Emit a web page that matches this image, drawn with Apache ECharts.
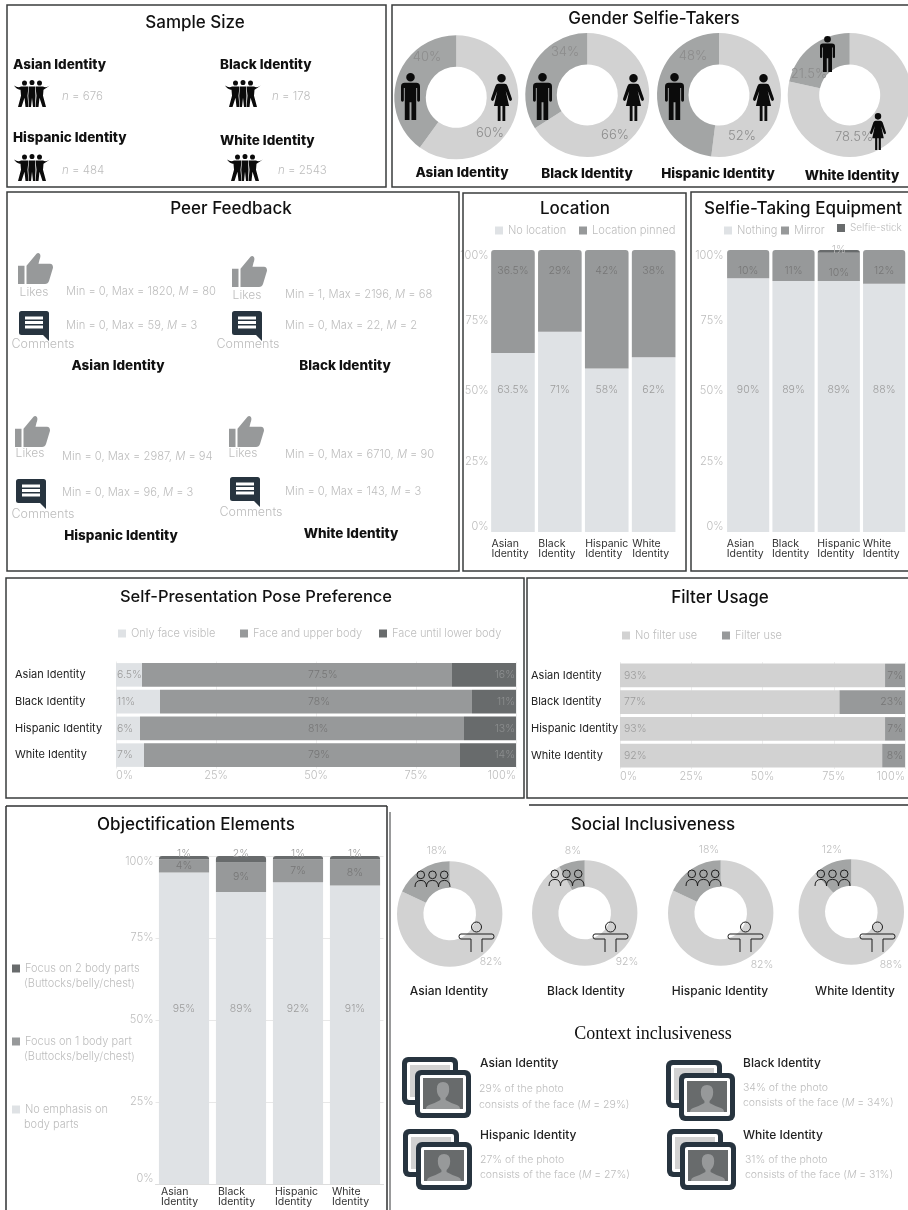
<!DOCTYPE html>
<html>
<head>
<meta charset="utf-8">
<title>Selfie practices by identity</title>
<script src="https://cdn.jsdelivr.net/npm/echarts@6/dist/echarts.min.js"></script>
<style>html,body{margin:0;padding:0;background:#fff}#chart{width:908px;height:1210px}</style>
</head>
<body>
<div id="chart"></div>
<script>
// ---- Values ----
const identities = ['Asian Identity', 'Black Identity', 'Hispanic Identity', 'White Identity'];
const sampleSizes = [676, 178, 484, 2543];

const genderFemale = [60, 66, 52, 78.5];
const genderMale = [40, 34, 48, 21.5];

const likesMin = [0, 1, 0, 0];
const likesMax = [1820, 2196, 2987, 6710];
const likesMean = [80, 68, 94, 90];
const commentsMin = [0, 0, 0, 0];
const commentsMax = [59, 22, 96, 143];
const commentsMean = [3, 2, 3, 3];

const noLocation = [63.5, 71, 58, 62];
const locationPinned = [36.5, 29, 42, 38];

const equipNothing = [90, 89, 89, 88];
const equipMirror = [10, 11, 10, 12];
const equipStick = [0, 0, 1, 0];

const poseFace = [6.5, 11, 6, 7];
const poseUpper = [77.5, 78, 81, 79];
const poseLower = [16, 11, 13, 14];

const noFilter = [93, 77, 93, 92];
const withFilter = [7, 23, 7, 8];

const objNone = [95, 89, 92, 91];
const objOnePart = [4, 9, 7, 8];
const objTwoParts = [1, 2, 1, 1];

const socialSolo = [82, 92, 82, 88];
const socialGroup = [18, 8, 18, 12];

const facePercent = [29, 34, 27, 31];

// ---- Palette and type ----
const FONT = 'Inter, "Open Sans", sans-serif';
const C_LIGHT = '#dfe2e5', C_MID = '#97999a', C_DARK = '#686b6c';
const C_PIE_A = '#d2d2d2', C_PIE_B = '#a3a5a5', C_NAVY = '#27343f';
const C_FAINT = '#bdbdbd', C_LABEL = '#9c9c9c', C_LABEL_DK = '#767676';

// ---- Icon outlines ----
const MAN = 'M29 9A9 9 0 1 1 11 9A9 9 0 1 1 29 9ZM8 21H32Q40 21 40 29V58Q40 61 37 61Q34 61 34 58V32H32V100H22V62H18V100H8V32H6V58Q6 61 3 61Q0 61 0 58V29Q0 21 8 21Z';
const WOMAN = 'M31 9A9 9 0 1 1 13 9A9 9 0 1 1 31 9ZM15 21H29Q33 21 35 26L44 52Q45 56 42 57Q39 58 38 55L31 36L38 68H30V100H24V68H20V100H14V68H6L13 36L6 55Q5 58 2 57Q-1 56 0 52L9 26Q11 21 15 21Z';
const CROWD = 'M26 7A5 5 0 1 1 16 7A5 5 0 1 1 26 7ZM41 6A5 5 0 1 1 31 6A5 5 0 1 1 41 6ZM56 7A5 5 0 1 1 46 7A5 5 0 1 1 56 7Z'
  + 'M0 12Q8 17 14 14H29L27 32L29 54H23L21 36L15 54H8L14 32L13 20Q6 21 0 12Z'
  + 'M30 14H42L43 32L42 54H38L36 36L34 54H30L28.5 32Z'
  + 'M72 12L59 20L58 32L64 54H57L51 36L49 54H43L45 32L43 14H58Q64 17 72 12Z';
const THUMB = 'M0 26H13V62H0ZM17 26L37 2Q41-1 44 3Q46 6 43 14L41 22H64Q70 22 70 30L62 56Q60 62 54 62H17Z';
const BUBBLE = 'M5 0H55Q60 0 60 5V60L48 48H5Q0 48 0 43V5Q0 0 5 0Z'
  + 'M12 11V17H48V11ZM12 20V26H48V20ZM12 29V35H48V29Z';
const BUST = 'M33 0Q45 0 45 14Q45 26 38 32V36Q48 42 60 46Q66 48 66 54H0Q0 48 6 46Q18 42 28 36V32Q21 26 21 14Q21 0 33 0Z';
const OUTLINE_CROWD = 'M9.6 4A3.8 3.8 0 1 1 2 4A3.8 3.8 0 1 1 9.6 4ZM21.3 4A3.8 3.8 0 1 1 13.7 4A3.8 3.8 0 1 1 21.3 4ZM33 4A3.8 3.8 0 1 1 25.4 4A3.8 3.8 0 1 1 33 4Z'
  + 'M0 16Q0 9.5 6 9.5Q11.5 9.5 11.5 16Q11.5 9.5 17.5 9.5Q23.5 9.5 23.5 16Q23.5 9.5 29.5 9.5Q35 9.5 35 16';
const OUTLINE_ARMS = 'M22.5 5A5 5 0 1 1 12.5 5A5 5 0 1 1 22.5 5ZM12 30V17H2Q0 17 0 14.5Q0 12 2 12H33Q35 12 35 14.5Q35 17 33 17H23V30';

// ---- Graphic helpers: panels, captions and pictograms ----
const graphics = [];
const icons = [];

function text(str, x, y, o = {}) {
  const size = o.size || 11, weight = o.weight || 300, fill = o.fill || C_FAINT;
  const family = o.family || FONT;
  const style = {
    text: str, fill, fontSize: size, fontWeight: weight, fontFamily: family,
    align: o.align || 'left', verticalAlign: 'middle',
    textAlign: o.align || 'left', textVerticalAlign: 'middle'
  };
  if (o.italicToken) {
    style.rich = {
      i: { fontStyle: 'italic', fontSize: size, fontWeight: weight, fontFamily: family, fill },
      r: { fontSize: size, fontWeight: weight, fontFamily: family, fill }
    };
  }
  graphics.push({ type: 'text', x, y, z: 120, silent: true, style });
}
function icon(d, x, y, width, height, style) {
  icons.push({ d, x, y, width, height, style });
}
function box(x0, y0, x1, y1) {
  graphics.push({
    type: 'rect', z: 5, silent: true,
    shape: { x: x0, y: y0, width: x1 - x0, height: y1 - y0 },
    style: { fill: 'none', stroke: '#3a3c3d', lineWidth: 1.5 }
  });
}
function rule(x0, y0, x1, y1, stroke = '#2f3132') {
  graphics.push({
    type: 'line', z: 5, silent: true,
    shape: { x1: x0, y1: y0, x2: x1, y2: y1 },
    style: { stroke, lineWidth: 1.5 }
  });
}
function block(x, y, w, h, r, fill) {
  graphics.push({
    type: 'rect', z: 108, silent: true,
    shape: { x, y, width: w, height: h, r }, style: { fill }
  });
}
function photoStack(x, y) {
  block(x, y, 56, 48, 6, C_NAVY);
  block(x + 5, y + 5, 46, 38, 2, '#ffffff');
  block(x + 8, y + 8, 40, 32, 0, C_PIE_A);
  block(x + 13, y + 13, 56, 48, 6, C_NAVY);
  block(x + 18, y + 18, 46, 38, 2, '#ffffff');
  block(x + 21, y + 21, 40, 31, 0, C_DARK);
  icon(BUST, x + 24, y + 25, 34, 27, { fill: C_MID });
}

const bold = { size: 13.5, weight: 800, fill: '#111', align: 'center' };
const plain = { size: 12, weight: 500, fill: '#222', align: 'center' };
const statFmt = (a, b, c) => `{r|Min = ${a}, Max = ${b}, }{i|M}{r| = ${c}}`;

// Panel frames
box(7, 5, 386, 187);
box(392, 5, 912, 187);
box(7, 192, 459, 571);
box(463, 193, 686, 571);
box(691, 192, 912, 571);
box(6, 578, 524, 798);
box(527, 578, 912, 798);
rule(6, 806, 387, 806);
rule(6, 806, 6, 1212);
rule(387, 806, 387, 1212);
rule(390, 812, 390, 1212, '#77797a');
rule(529, 805, 908, 805);

// Sample size block
const sampleSpots = [
  { tx: 13, ty: 65, ix: 14, iy: 80, nx: 62, ny: 97 },
  { tx: 220, ty: 65, ix: 225, iy: 80, nx: 272, ny: 97 },
  { tx: 13, ty: 138, ix: 14, iy: 154, nx: 62, ny: 171 },
  { tx: 220, ty: 141, ix: 227, iy: 154, nx: 278, ny: 171 }
];
identities.forEach((name, i) => {
  const s = sampleSpots[i];
  text(name, s.tx, s.ty, { ...bold, align: 'left' });
  icon(CROWD, s.ix, s.iy, 36, 27, { fill: '#0b0b0b' });
  text(`{i|n}{r| = ${sampleSizes[i]}}`, s.nx, s.ny, { size: 11.5, italicToken: true });
});

// Gender pictograms and captions
const genderCaptions = [[462, 173], [587, 174], [718, 174], [852, 176]];
const genderPeople = [
  { m: [401, 73, 19, 47], w: [491, 74, 21, 47] },
  { m: [533, 73, 19, 47], w: [623, 74, 21, 47] },
  { m: [665, 73, 19, 47], w: [753, 74, 21, 47] },
  { m: [820, 36, 15, 36], w: [870, 113, 16, 37] }
];
identities.forEach((name, i) => {
  text(name, genderCaptions[i][0], genderCaptions[i][1], bold);
  icon(MAN, ...genderPeople[i].m, { fill: '#0b0b0b' });
  icon(WOMAN, ...genderPeople[i].w, { fill: '#0b0b0b' });
});

// Peer feedback block
const peerSpots = [
  { th: [18, 253], lk: [34, 292], st: [66, 292], cm: [19, 311], cl: [43, 344], ct: [66, 326], id: [118, 366] },
  { th: [232, 256], lk: [247, 295], st: [285, 295], cm: [232, 311], cl: [248, 344], ct: [285, 326], id: [345, 366] },
  { th: [15, 416], lk: [30, 453], st: [62, 457], cm: [16, 479], cl: [43, 514], ct: [62, 493], id: [121, 536] },
  { th: [229, 416], lk: [243, 453], st: [285, 455], cm: [230, 477], cl: [251, 512], ct: [285, 492], id: [351, 534] }
];
identities.forEach((name, i) => {
  const p = peerSpots[i];
  icon(THUMB, p.th[0], p.th[1], 35, 31, { fill: C_MID });
  text('Likes', p.lk[0], p.lk[1], { align: 'center', size: 12 });
  text(statFmt(likesMin[i], likesMax[i], likesMean[i]), p.st[0], p.st[1], { size: 11.2, italicToken: true });
  icon(BUBBLE, p.cm[0], p.cm[1], 30, 30, { fill: C_NAVY });
  text('Comments', p.cl[0], p.cl[1], { align: 'center', size: 12.5 });
  text(statFmt(commentsMin[i], commentsMax[i], commentsMean[i]), p.ct[0], p.ct[1], { size: 11.2, italicToken: true });
  text(name, p.id[0], p.id[1], bold);
});

// Objectification legend: second lines sit under the legend entries
text('(Buttocks/belly/chest)', 24, 984, { size: 11 });
text('(Buttocks/belly/chest)', 24, 1057, { size: 11 });
text('body parts', 24, 1125, { size: 11 });

// Social inclusiveness pictograms and captions
const socialCaptionX = [449, 586, 720, 855];
const crowdSpots = [[415, 871], [549, 870], [686, 870], [815, 870]];
const armsSpots = [[459, 922], [593, 922], [728, 922], [860, 922]];
identities.forEach((name, i) => {
  text(name, socialCaptionX[i], 991, plain);
  icon(OUTLINE_CROWD, crowdSpots[i][0], crowdSpots[i][1], 35, 16, { fill: 'none', stroke: '#1c1c1c', lineWidth: 1 });
  icon(OUTLINE_ARMS, armsSpots[i][0], armsSpots[i][1], 35, 30, { fill: 'none', stroke: '#1c1c1c', lineWidth: 1 });
});

// Context inclusiveness block
const contextSpots = [
  { ph: [402, 1057], nm: [480, 1063], tx: [479, 1089, 1105] },
  { ph: [666, 1060], nm: [743, 1063], tx: [743, 1088, 1103] },
  { ph: [403, 1129], nm: [480, 1135], tx: [480, 1160, 1175] },
  { ph: [667, 1129], nm: [743, 1135], tx: [745, 1160, 1175] }
];
identities.forEach((name, i) => {
  const c = contextSpots[i], v = facePercent[i];
  photoStack(c.ph[0], c.ph[1]);
  text(name, c.nm[0], c.nm[1], { ...plain, align: 'left' });
  text(`${v}% of the photo`, c.tx[0], c.tx[1], { size: 10.5 });
  text(`{r|consists of the face (}{i|M}{r| = ${v}%)}`, c.tx[0], c.tx[2], { size: 10.5, italicToken: true });
});

// ---- Titles ----
const panelTitles = [
  ['Sample Size', 195, 14, 17], ['Gender Selfie-Takers', 654, 10, 17], ['Peer Feedback', 231, 200, 17],
  ['Location', 575, 200, 17], ['Selfie-Taking Equipment', 803, 200, 17],
  ['Self-Presentation Pose Preference', 256, 589, 16.5], ['Filter Usage', 720, 589, 17],
  ['Objectification Elements', 196, 816, 17], ['Social Inclusiveness', 653, 816, 17]
];
const titles = panelTitles.map(([t, x, y, size]) => ({
  text: t, left: x, top: y, textAlign: 'center', padding: 0,
  textStyle: { fontFamily: FONT, fontSize: size, fontWeight: 500, color: '#111' }
}));
titles.push({
  text: 'Context inclusiveness', left: 653, top: 1025, textAlign: 'center', padding: 0,
  textStyle: { fontFamily: '"Liberation Serif", serif', fontSize: 18, fontWeight: 400, color: '#111' }
});

// ---- Legends: one component per entry so each swatch sits where it belongs ----
const legendSpots = [
  ['No location', 495, 225, 11], ['Location pinned', 579, 225, 11.2],
  ['Nothing', 724, 225, 11], ['Mirror', 781, 225, 11], ['Selfie-stick', 837, 223, 10],
  ['Only face visible', 118, 628, 11], ['Face and upper body', 240, 628, 11], ['Face until lower body', 379, 628, 11],
  ['No filter use', 622, 630, 11], ['Filter use', 722, 630, 11],
  ['Focus on 2 body parts', 12, 963, 11], ['Focus on 1 body part', 12, 1036, 11], ['No emphasis on', 12, 1104, 11]
];
const legends = legendSpots.map(([name, x, y, size]) => ({
  data: [name], left: x, top: y, padding: 0, itemWidth: 8, itemHeight: 8, itemGap: 0,
  icon: 'rect', selectedMode: false,
  textStyle: { fontFamily: FONT, fontSize: size, fontWeight: 300, color: C_FAINT }
}));

// ---- Cartesian panels ----
const grids = [], xAxes = [], yAxes = [], series = [];
const pct = p => (p.value ? p.value + '%' : '');
const tickText = { fontFamily: FONT, fontSize: 11, fontWeight: 300, color: C_FAINT };

function addColumnPanel(rect, labelWidth, yMargin, xMargin, faintGrid) {
  const idx = grids.length;
  grids.push(rect);
  xAxes.push({
    type: 'category', gridIndex: idx, data: identities,
    axisTick: { show: false },
    axisLine: { show: !!faintGrid, lineStyle: { color: '#dddddd' } },
    axisLabel: {
      interval: 0, margin: xMargin, lineHeight: 10,
      formatter: n => n.split(' ').map(w => `{a|${w}}`).join('\n'),
      rich: { a: { width: labelWidth, align: 'left', fontFamily: FONT, fontSize: 10.5, fontWeight: 400, color: '#333', lineHeight: 10 } }
    }
  });
  yAxes.push({
    type: 'value', gridIndex: idx, min: 0, max: 100, interval: 25,
    axisLine: { show: false }, axisTick: { show: false },
    splitLine: { show: !!faintGrid, lineStyle: { color: '#e8e8e8', width: 1 } },
    axisLabel: {
      ...tickText, margin: yMargin, formatter: '{value}%',
      verticalAlignMinLabel: 'bottom', verticalAlignMaxLabel: 'top'
    }
  });
  return idx;
}

function addRowPanel(rect, margin) {
  const idx = grids.length;
  grids.push(rect);
  yAxes.push({
    type: 'category', gridIndex: idx, data: identities, inverse: true,
    axisTick: { show: false }, axisLine: { show: false },
    axisLabel: { interval: 0, margin, align: 'left', fontFamily: FONT, fontSize: 11, fontWeight: 400, color: '#222' }
  });
  xAxes.push({
    type: 'value', gridIndex: idx, min: 0, max: 100, interval: 25,
    axisLine: { show: false }, axisTick: { show: false },
    splitLine: { show: true, lineStyle: { color: '#eeeeee', width: 1 } },
    axisLabel: {
      ...tickText, margin: 2, formatter: '{value}%',
      alignMinLabel: 'left', alignMaxLabel: 'right'
    }
  });
  return idx;
}

function stackBar(idx, name, data, color, label, extra = {}) {
  series.push({
    type: 'bar', name, data, stack: 'g' + idx, xAxisIndex: idx, yAxisIndex: idx,
    barCategoryGap: extra.gap || '7%', silent: true,
    itemStyle: { color, borderRadius: extra.radius || 0 },
    label: {
      show: true, formatter: pct, fontFamily: FONT, fontSize: 10.5, fontWeight: 300,
      color: C_LABEL, ...label
    }
  });
}

const TOP_ROUND = [3, 3, 0, 0];

// Location
const gLoc = addColumnPanel({ left: 489.5, top: 250, width: 187.6, height: 282 }, 43, 1, 7);
stackBar(gLoc, 'No location', noLocation, C_LIGHT, { position: 'insideBottom', distance: 137 });
stackBar(gLoc, 'Location pinned', locationPinned, C_MID,
  { position: 'insideTop', distance: 15, color: C_LABEL_DK }, { radius: TOP_ROUND });

// Equipment
const gEq = addColumnPanel({ left: 725.5, top: 250, width: 186.4, height: 282 }, 43, 2, 7);
stackBar(gEq, 'Nothing', equipNothing, C_LIGHT, { position: 'insideBottom', distance: 137 });
stackBar(gEq, 'Mirror',
  equipMirror.map((v, i) => ({ value: v, itemStyle: { borderRadius: equipStick[i] ? 0 : TOP_ROUND } })),
  C_MID, { position: 'insideTop', distance: 15, color: C_LABEL_DK });
stackBar(gEq, 'Selfie-stick', equipStick, C_DARK,
  { position: 'top', distance: -5, color: C_FAINT }, { radius: TOP_ROUND });

// Pose preference: the middle label is pushed towards the plot's centre line
const POSE_PX_PER_PCT = 4;
const gPose = addRowPanel({ left: 116, top: 661.5, width: 400, height: 107 }, 101);
stackBar(gPose, 'Only face visible', poseFace, C_LIGHT, { position: 'insideLeft', distance: 1 }, { gap: '12%' });
stackBar(gPose, 'Face and upper body',
  poseUpper.map((v, i) => ({
    value: v,
    label: { position: 'insideLeft', distance: (50 - poseFace[i]) * POSE_PX_PER_PCT - 8 }
  })),
  C_MID, { color: C_LABEL_DK }, { gap: '12%' });
stackBar(gPose, 'Face until lower body', poseLower, C_DARK,
  { position: 'insideRight', distance: 1, color: '#8d8f90' }, { gap: '12%' });

// Filter usage
const gFil = addRowPanel({ left: 620, top: 662, width: 289, height: 107 }, 89);
stackBar(gFil, 'No filter use', noFilter, C_PIE_A, { position: 'insideLeft', distance: 4 }, { gap: '12%' });
stackBar(gFil, 'Filter use', withFilter, C_MID, { position: 'insideRight', distance: 2, color: C_LABEL_DK }, { gap: '12%' });

// Objectification
const gObj = addColumnPanel({ left: 155.5, top: 856, width: 228, height: 328 }, 46, 2, 3, true);
stackBar(gObj, 'No emphasis on', objNone, C_LIGHT, { position: 'insideBottom', distance: 170 }, { gap: '12%' });
stackBar(gObj, 'Focus on 1 body part', objOnePart, C_MID, { position: 'inside', color: C_LABEL_DK }, { gap: '12%' });
stackBar(gObj, 'Focus on 2 body parts', objTwoParts, C_DARK,
  { position: 'top', distance: -3, color: C_LABEL }, { gap: '12%', radius: TOP_ROUND });

// ---- Donuts ----
function donut(name, values, cx, cy, outer, inner, spots, fontSize, color) {
  series.push({
    type: 'pie', name, center: [cx, cy], radius: [inner, outer],
    startAngle: 90, clockwise: true, silent: true, avoidLabelOverlap: false,
    data: values.map((v, i) => ({ value: v, name: `${name} ${i}`, itemStyle: { color: i ? C_PIE_B : C_PIE_A } })),
    label: {
      show: true, position: 'inside', formatter: p => p.value + '%',
      fontFamily: FONT, fontSize, fontWeight: 300, color
    },
    labelLine: { show: false },
    labelLayout: p => ({ x: spots[p.dataIndex][0], y: spots[p.dataIndex][1], align: 'center', verticalAlign: 'middle' })
  });
}

const genderCentres = [[456.3, 97.3], [587.3, 95], [719, 95], [849.7, 95]];
const genderLabelSpots = [
  [[490, 133], [427, 57]], [[615, 135], [565, 52]],
  [[742, 136], [693, 56]], [[854, 137], [809, 74]]
];
identities.forEach((name, i) => donut('Gender ' + name, [genderFemale[i], genderMale[i]],
  genderCentres[i][0], genderCentres[i][1], 62, 30.5, genderLabelSpots[i], 13, '#8c8c8c'));

const socialCentres = [[449.7, 914], [584.7, 913], [720.7, 913], [851.3, 912]];
const socialLabelSpots = [
  [[491, 962], [437, 851]], [[627, 962], [573, 851]],
  [[762, 965], [709, 850]], [[891, 965], [832, 850]]
];
identities.forEach((name, i) => donut('Social ' + name, [socialSolo[i], socialGroup[i]],
  socialCentres[i][0], socialCentres[i][1], 52.7, 26.3, socialLabelSpots[i], 10.5, C_FAINT));

// Pictograms share one custom series; each outline is scaled into its own box
series.push({
  type: 'custom', coordinateSystem: 'none', silent: true, z: 112,
  data: icons.map((_, i) => i),
  renderItem: (params) => {
    const k = icons[params.dataIndex];
    return {
      type: 'path',
      shape: { pathData: k.d, layout: 'cover', x: k.x, y: k.y, width: k.width, height: k.height },
      style: k.style
    };
  }
});

// ---- Assemble ----
const chart = echarts.init(document.getElementById('chart'), null, { renderer: 'canvas', width: 908, height: 1210 });
chart.setOption({
  animation: false,
  backgroundColor: '#ffffff',
  title: titles,
  legend: legends,
  grid: grids,
  xAxis: xAxes,
  yAxis: yAxes,
  series,
  graphic: { elements: graphics }
});
</script>
</body>
</html>
